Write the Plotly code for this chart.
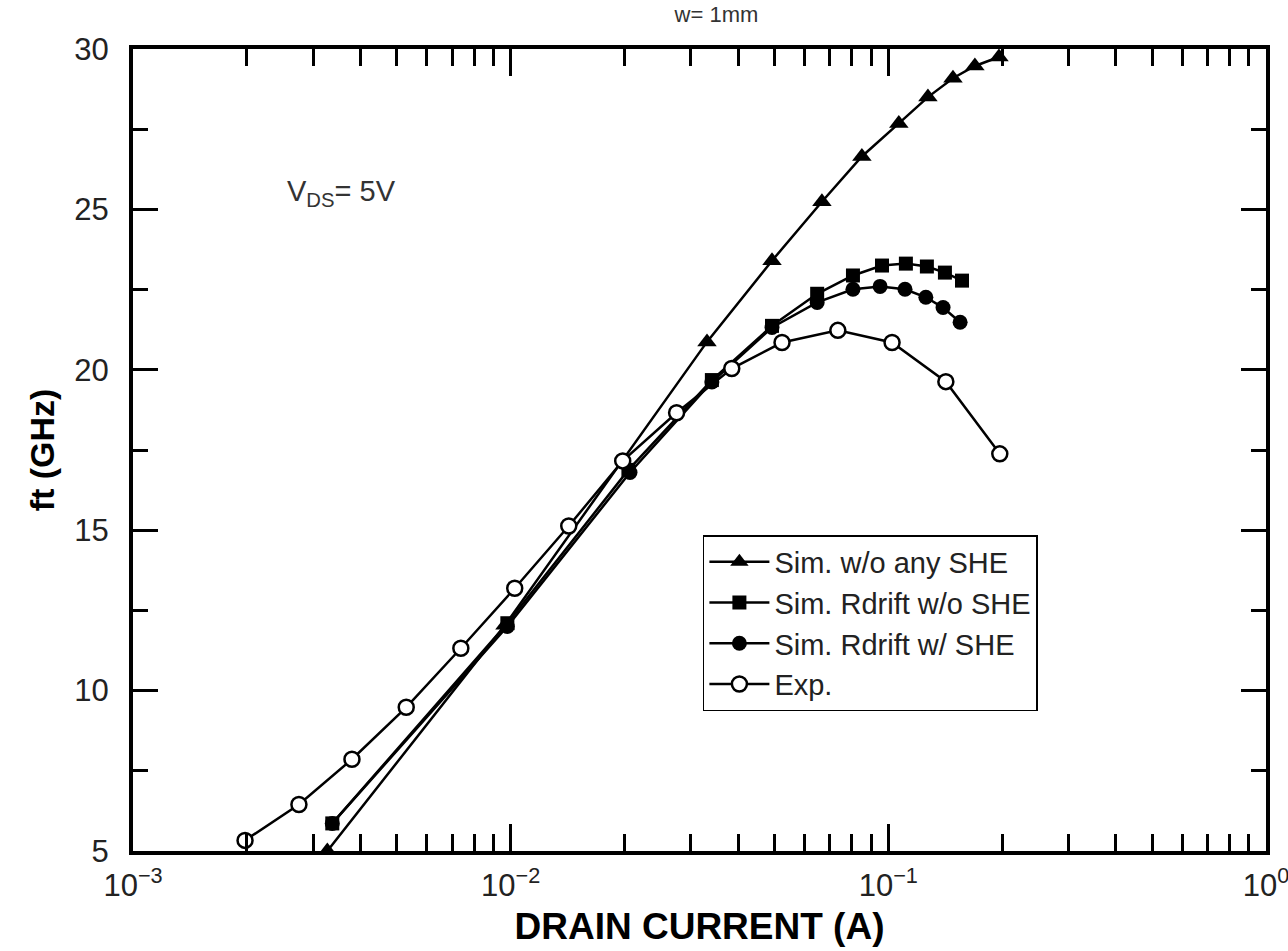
import plotly.graph_objects as go

# ---- data ----
tri_I = [0.00327, 0.00966, 0.0331, 0.0492, 0.0667, 0.0851, 0.1066, 0.1273, 0.1483, 0.1695, 0.1963]
tri_f = [5.0, 12.04, 20.87, 23.40, 25.24, 26.65, 27.68, 28.50, 29.09, 29.47, 29.75]

sq_I = [0.00337, 0.0098, 0.0205, 0.0341, 0.0492, 0.0648, 0.0806, 0.0962, 0.1113, 0.1265, 0.1412, 0.1567]
sq_f = [5.86, 12.10, 16.88, 19.68, 21.37, 22.37, 22.94, 23.25, 23.31, 23.22, 23.03, 22.78]

cir_I = [0.00337, 0.0098, 0.0207, 0.0341, 0.0492, 0.0648, 0.0806, 0.0951, 0.1107, 0.1257, 0.1396, 0.1549]
cir_f = [5.86, 12.0, 16.80, 19.62, 21.32, 22.10, 22.51, 22.60, 22.51, 22.26, 21.94, 21.48]

exp_I = [0.00198, 0.00275, 0.00380, 0.00529, 0.00738, 0.01025, 0.01425, 0.0198, 0.0275,
         0.0385, 0.0523, 0.0735, 0.1023, 0.1420, 0.1973]
exp_f = [5.33, 6.45, 7.86, 9.48, 11.32, 13.19, 15.13, 17.16, 18.66,
         20.04, 20.85, 21.23, 20.85, 19.63, 17.38]

x_tickvals = [0.001, 0.01, 0.1, 1]
x_ticktext = ["10<sup>\u22123</sup>", "10<sup>\u22122</sup>", "10<sup>\u22121</sup>", "10<sup>0</sup>"]
x_minor = [m * d for d in [0.001, 0.01, 0.1] for m in range(2, 10)]
y_tickvals = [5, 10, 15, 20, 25, 30]

FONT = "Arial, Liberation Sans, sans-serif"
LW = 2.5

fig = go.Figure()
fig.add_trace(go.Scatter(
    x=tri_I, y=tri_f, mode="lines+markers", name="Sim. w/o any SHE",
    line=dict(color="black", width=LW),
    marker=dict(symbol="triangle-up", size=17, color="black")))
fig.add_trace(go.Scatter(
    x=sq_I, y=sq_f, mode="lines+markers", name="Sim. Rdrift w/o SHE",
    line=dict(color="black", width=LW),
    marker=dict(symbol="square", size=14, color="black")))
fig.add_trace(go.Scatter(
    x=cir_I, y=cir_f, mode="lines+markers", name="Sim. Rdrift w/ SHE",
    line=dict(color="black", width=LW),
    marker=dict(symbol="circle", size=15, color="black")))
fig.add_trace(go.Scatter(
    x=exp_I, y=exp_f, mode="lines+markers", name="Exp.",
    line=dict(color="black", width=LW),
    marker=dict(symbol="circle", size=15, color="white",
                line=dict(color="black", width=2.5))))

fig.update_layout(
    width=1288, height=951,
    margin=dict(l=133, r=22, t=49, b=100),
    paper_bgcolor="white", plot_bgcolor="white",
    font=dict(family=FONT, color="black"),
    title=dict(text="w= 1mm", x=0.515, xref="paper", xanchor="center",
               y=1 - 14 / 951, yref="container", yanchor="middle",
               font=dict(size=22, color="#333333")),
    showlegend=True,
    legend=dict(x=0.503, y=0.394, xanchor="left", yanchor="top",
                bordercolor="black", borderwidth=1.5, bgcolor="white",
                font=dict(size=29, color="#222222"), itemwidth=60,
                tracegroupgap=0),
)

fig.update_xaxes(
    type="log", range=[-3, 0], automargin=False,
    tickvals=x_tickvals, ticktext=x_ticktext,
    ticks="inside", ticklen=27, tickwidth=3, tickcolor="black",
    minor=dict(tickvals=x_minor, ticks="inside", ticklen=17, tickwidth=3, tickcolor="black"),
    showline=True, linewidth=4, linecolor="black", mirror="allticks",
    showgrid=False, zeroline=False,
    tickfont=dict(size=31, color="#222222"),
    ticklabelstandoff=4, ticklabeloverflow="allow",
    title=dict(text="<b>DRAIN CURRENT (A)</b>", font=dict(size=37, color="black"), standoff=12),
)
fig.update_yaxes(
    range=[5, 30], tickvals=y_tickvals, automargin=False,
    ticks="inside", ticklen=25, tickwidth=3, tickcolor="black",
    minor=dict(dtick=2.5, ticks="inside", ticklen=15, tickwidth=3, tickcolor="black"),
    showline=True, linewidth=4, linecolor="black", mirror="allticks",
    showgrid=False, zeroline=False,
    tickfont=dict(size=31, color="#222222"),
    ticklabelstandoff=14,
    title=dict(text="<b>ft (GHz)</b>", font=dict(size=34, color="black"), standoff=10),
)

fig.add_annotation(
    text="V<sub>DS</sub>= 5V", xref="paper", yref="paper",
    x=0.134, y=0.82, xanchor="left", yanchor="middle", showarrow=False,
    font=dict(size=29, color="#333333", family=FONT))

fig.write_html("out.html")
